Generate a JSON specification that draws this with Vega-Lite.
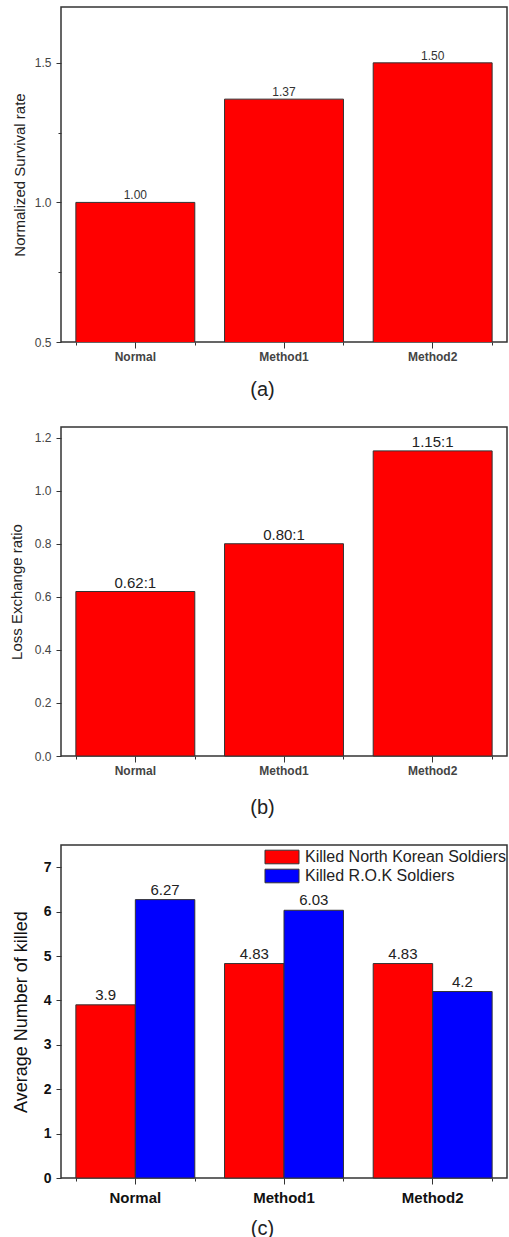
{
  "$schema": "https://vega.github.io/schema/vega-lite/v6.json",
  "padding": {"left": 8, "top": 6, "right": 0, "bottom": 0},
  "background": "white",
  "config": {
    "font": "Liberation Sans",
    "view": {"stroke": "#333", "strokeWidth": 1.5},
    "axis": {"grid": false, "domain": false, "tickColor": "#333", "tickWidth": 1, "labelFont": "Liberation Sans", "titleFont": "Liberation Sans"}
  },
  "concat": [
    {
      "width": 446,
      "height": 335,
      "data": {"values": [
        {"method": "Normal", "value": 1.00},
        {"method": "Method1", "value": 1.37},
        {"method": "Method2", "value": 1.50}
      ]},
      "layer": [
        {
          "mark": {"type": "bar", "color": "#ff0000", "stroke": "#333", "strokeWidth": 1, "clip": true},
          "encoding": {
            "x": {"field": "method", "type": "nominal", "sort": null,
              "scale": {"paddingInner": 0.2, "paddingOuter": 0.1},
              "axis": {"orient": "bottom", "title": "(a)", "labelAngle": 0, "tickSize": 6, "labelPadding": 3,
                "labelFontSize": 12, "labelFontWeight": "bold", "labelColor": "#444",
                "titleFontSize": 20, "titleFontWeight": "normal", "titleColor": "#222", "titlePadding": 17, "titleX": 201}},
            "y": {"field": "value", "type": "quantitative",
              "scale": {"domain": [0.5, 1.7], "zero": false, "nice": false},
              "axis": {"title": "Normalized Survival rate", "values": [0.5, 0.75, 1, 1.25, 1.5],
                "labelExpr": "round(datum.value*4) % 2 == 0 ? format(datum.value, '.1f') : ''",
                "labelOverlap": false, "labelFontSize": 12, "labelColor": "#444", "labelPadding": 5,
                "tickSize": {"condition": {"test": "round(datum.value*4) % 2 == 0", "value": 5}, "value": 3},
                "titleFontSize": 15, "titleFontWeight": "normal", "titleColor": "#222", "titlePadding": 7}}
          }
        },
        {
          "mark": {"type": "text", "dy": -3, "fontSize": 12, "color": "#333", "baseline": "alphabetic"},
          "encoding": {
            "x": {"field": "method", "type": "nominal", "sort": null,
              "axis": {"orient": "bottom", "tickBand": "extent", "labels": false, "tickSize": 3, "title": null}},
            "y": {"field": "value", "type": "quantitative"},
            "text": {"field": "value", "type": "quantitative", "format": ".2f"}
          }
        }
      ],
      "resolve": {"axis": {"x": "independent"}}
    },
    {
      "width": 446,
      "height": 329,
      "data": {"values": [
        {"method": "Normal", "value": 0.62, "label": "0.62:1"},
        {"method": "Method1", "value": 0.80, "label": "0.80:1"},
        {"method": "Method2", "value": 1.15, "label": "1.15:1"}
      ]},
      "layer": [
        {
          "mark": {"type": "bar", "color": "#ff0000", "stroke": "#333", "strokeWidth": 1},
          "encoding": {
            "x": {"field": "method", "type": "nominal", "sort": null,
              "scale": {"paddingInner": 0.2, "paddingOuter": 0.1},
              "axis": {"orient": "bottom", "title": "(b)", "labelAngle": 0, "tickSize": 6, "labelPadding": 3,
                "labelFontSize": 12, "labelFontWeight": "bold", "labelColor": "#444",
                "titleFontSize": 20, "titleFontWeight": "normal", "titleColor": "#222", "titlePadding": 21, "titleX": 201}},
            "y": {"field": "value", "type": "quantitative",
              "scale": {"domain": [0, 1.24], "nice": false},
              "axis": {"title": "Loss Exchange ratio", "values": [0, 0.1, 0.2, 0.3, 0.4, 0.5, 0.6, 0.7, 0.8, 0.9, 1, 1.1, 1.2],
                "labelExpr": "round(datum.value*10) % 2 == 0 ? format(datum.value, '.1f') : ''",
                "labelOverlap": false, "labelFontSize": 12, "labelColor": "#444", "labelPadding": 5,
                "tickSize": {"condition": {"test": "round(datum.value*10) % 2 == 0", "value": 5}, "value": 3},
                "titleFontSize": 15, "titleFontWeight": "normal", "titleColor": "#222", "titlePadding": 10}}
          }
        },
        {
          "mark": {"type": "text", "dy": -4, "fontSize": 15, "color": "#222", "baseline": "alphabetic"},
          "encoding": {
            "x": {"field": "method", "type": "nominal", "sort": null,
              "axis": {"orient": "bottom", "tickBand": "extent", "labels": false, "tickSize": 3, "title": null}},
            "y": {"field": "value", "type": "quantitative"},
            "text": {"field": "label", "type": "nominal"}
          }
        }
      ],
      "resolve": {"axis": {"x": "independent"}}
    },
    {
      "width": 446,
      "height": 333,
      "data": {"values": [
        {"method": "Normal", "group": "Killed North Korean Soldiers", "value": 3.9},
        {"method": "Normal", "group": "Killed R.O.K Soldiers", "value": 6.27},
        {"method": "Method1", "group": "Killed North Korean Soldiers", "value": 4.83},
        {"method": "Method1", "group": "Killed R.O.K Soldiers", "value": 6.03},
        {"method": "Method2", "group": "Killed North Korean Soldiers", "value": 4.83},
        {"method": "Method2", "group": "Killed R.O.K Soldiers", "value": 4.2}
      ]},
      "layer": [
        {
          "mark": {"type": "bar", "stroke": "#333", "strokeWidth": 1},
          "encoding": {
            "x": {"field": "method", "type": "nominal", "sort": null,
              "scale": {"paddingInner": 0.2, "paddingOuter": 0.1},
              "axis": {"orient": "bottom", "title": "(c)", "labelAngle": 0, "tickSize": 6, "labelPadding": 6,
                "labelFontSize": 15, "labelFontWeight": "bold", "labelColor": "#111",
                "titleFontSize": 20, "titleFontWeight": "normal", "titleColor": "#222", "titlePadding": 13, "titleX": 201}},
            "xOffset": {"field": "group", "type": "nominal", "sort": null},
            "y": {"field": "value", "type": "quantitative",
              "scale": {"domain": [0, 7.5], "nice": false},
              "axis": {"title": "Average Number of killed", "values": [0, 0.5, 1, 1.5, 2, 2.5, 3, 3.5, 4, 4.5, 5, 5.5, 6, 6.5, 7],
                "labelExpr": "round(datum.value*2) % 2 == 0 ? format(datum.value, 'd') : ''",
                "labelOverlap": false, "labelFontSize": 14, "labelFontWeight": "bold", "labelColor": "#111", "labelPadding": 5,
                "tickSize": {"condition": {"test": "round(datum.value*2) % 2 == 0", "value": 5}, "value": 3},
                "titleFontSize": 18, "titleFontWeight": "normal", "titleColor": "#111", "titlePadding": 13}},
            "color": {"field": "group", "type": "nominal", "sort": null,
              "scale": {"domain": ["Killed North Korean Soldiers", "Killed R.O.K Soldiers"], "range": ["#ff0000", "#0000ff"]},
              "legend": {"title": null, "orient": "none", "legendX": 213, "legendY": 842, "padding": 0,
                "symbolType": "M-2.5,-1H2.5V1H-2.5Z", "symbolSize": 185, "symbolStrokeColor": "#333", "symbolStrokeWidth": 1,
                "symbolOpacity": 1, "labelOffset": 15, "labelFontSize": 16, "labelColor": "#222", "labelLimit": 0, "rowPadding": 1}}
          }
        },
        {
          "mark": {"type": "text", "dy": -5, "fontSize": 15, "color": "#222", "baseline": "alphabetic"},
          "encoding": {
            "x": {"field": "method", "type": "nominal", "sort": null,
              "axis": {"orient": "bottom", "tickBand": "extent", "labels": false, "tickSize": 3, "title": null}},
            "xOffset": {"field": "group", "type": "nominal", "sort": null},
            "y": {"field": "value", "type": "quantitative"},
            "text": {"field": "value", "type": "quantitative", "format": ".2~f"}
          }
        }
      ],
      "resolve": {"axis": {"x": "independent"}}
    }
  ],
  "columns": 1,
  "align": "none",
  "spacing": 26
}
